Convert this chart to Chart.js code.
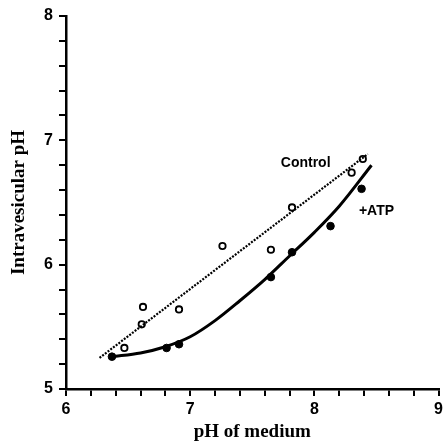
<!DOCTYPE html>
<html>
<head>
<meta charset="utf-8">
<script src="https://cdn.jsdelivr.net/npm/chart.js@4"></script>
<style>
  html, body { margin: 0; padding: 0; background: #fff; }
  #wrap { width: 447px; height: 442px; }
</style>
</head>
<body>
<div id="wrap"><canvas id="chart" width="447" height="442"></canvas></div>
<script>
// data
const controlX = [6.47, 6.61, 6.62, 6.91, 7.26, 7.65, 7.82, 8.30, 8.39];
const controlY = [5.33, 5.52, 5.66, 5.64, 6.15, 6.12, 6.46, 6.74, 6.85];
const atpX = [6.37, 6.81, 6.91, 7.65, 7.82, 8.13, 8.38];
const atpY = [5.26, 5.33, 5.36, 5.90, 6.10, 6.31, 6.61];
const controlFitX = [6.27, 8.43];
const controlFitY = [5.25, 6.89];
const atpFitX = [6.37, 6.6, 6.8, 7.0, 7.2, 7.4, 7.6, 7.8, 8.0, 8.2, 8.46];
const atpFitY = [5.26, 5.29, 5.34, 5.42, 5.55, 5.71, 5.88, 6.07, 6.26, 6.47, 6.80];
const seriesLabels = [
  { text: 'Control', x: 7.93, y: 6.82 },
  { text: '+ATP', x: 8.50, y: 6.43 }
];

const pts = (xs, ys) => xs.map((x, i) => ({ x, y: ys[i] }));

const tickFont = { family: 'Liberation Sans', size: 16, weight: 'bold' };
const titleFont = { family: 'Liberation Serif', size: 19, weight: 'bold', lineHeight: 1 };

const onlyMajor = v => (Math.abs(v - Math.round(v)) < 1e-6 ? String(Math.round(v)) : '');

const labelPlugin = {
  id: 'seriesLabels',
  afterDatasetsDraw(chart) {
    const { ctx, scales } = chart;
    ctx.save();
    ctx.fillStyle = '#000';
    ctx.font = 'bold 14px "Liberation Sans"';
    ctx.textAlign = 'center';
    ctx.textBaseline = 'middle';
    seriesLabels.forEach(l => {
      ctx.fillText(l.text, scales.x.getPixelForValue(l.x), scales.y.getPixelForValue(l.y));
    });
    ctx.restore();
  }
};

new Chart(document.getElementById('chart'), {
  type: 'scatter',
  data: {
    datasets: [
      {
        label: 'Control fit',
        type: 'line',
        data: pts(controlFitX, controlFitY),
        borderColor: '#000',
        borderWidth: 2.2,
        borderDash: [2, 1.4],
        pointRadius: 0,
        fill: false
      },
      {
        label: '+ATP fit',
        type: 'line',
        data: pts(atpFitX, atpFitY),
        borderColor: '#000',
        borderWidth: 3,
        cubicInterpolationMode: 'monotone',
        pointRadius: 0,
        fill: false
      },
      {
        label: 'Control',
        data: pts(controlX, controlY),
        pointRadius: 3.2,
        pointBorderWidth: 1.8,
        pointBackgroundColor: '#fff',
        pointBorderColor: '#000'
      },
      {
        label: '+ATP',
        data: pts(atpX, atpY),
        pointRadius: 3.8,
        pointBorderWidth: 1,
        pointBackgroundColor: '#000',
        pointBorderColor: '#000'
      }
    ]
  },
  options: {
    responsive: false,
    animation: false,
    layout: { padding: { top: 16, right: 5, left: 0, bottom: 0 } },
    plugins: { legend: { display: false }, tooltip: { enabled: false } },
    scales: {
      x: {
        type: 'linear',
        min: 6,
        max: 9,
        afterFit: s => { s.height = 53; },
        border: { color: '#000', width: 2.5 },
        grid: { drawOnChartArea: false, drawTicks: true, tickLength: 7, color: '#000', lineWidth: 2 },
        ticks: { stepSize: 0.2, color: '#000', font: tickFont, padding: 4, maxRotation: 0, autoSkip: false, callback: onlyMajor },
        title: { display: true, text: 'pH of medium', color: '#000', font: titleFont, padding: { top: 0, bottom: 0 } }
      },
      y: {
        type: 'linear',
        min: 5,
        max: 8,
        afterFit: s => { s.width = 66; },
        border: { color: '#000', width: 2.5 },
        grid: { drawOnChartArea: false, drawTicks: true, tickLength: 7, color: '#000', lineWidth: 2 },
        ticks: { stepSize: 0.2, color: '#000', font: tickFont, padding: 6, autoSkip: false, callback: onlyMajor },
        title: { display: true, text: 'Intravesicular pH', color: '#000', font: titleFont, padding: { top: 10, bottom: 0 } }
      }
    }
  },
  plugins: [labelPlugin]
});
</script>
</body>
</html>
